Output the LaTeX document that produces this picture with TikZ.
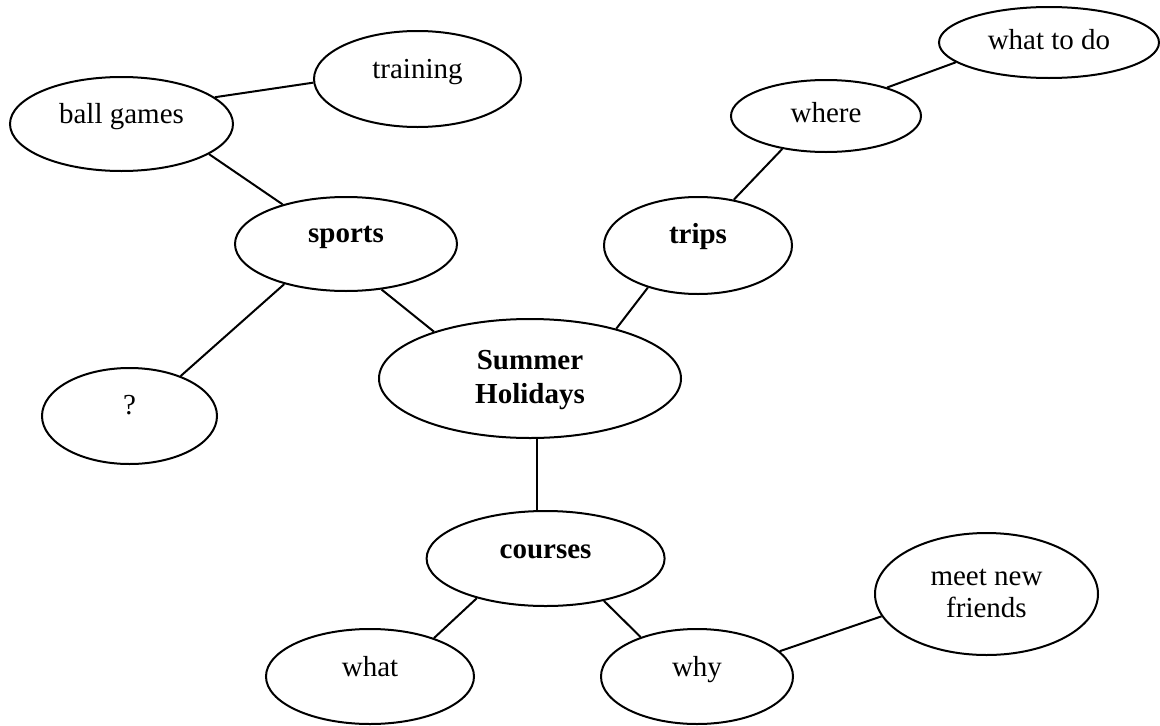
\documentclass[tikz,border=0pt]{standalone}
\usepackage{fontspec}
\setmainfont{Liberation Serif}
\usetikzlibrary{shapes.geometric}
\begin{document}
\begin{tikzpicture}[x=1pt,y=-1pt,
  bub/.style={ellipse, draw, line width=2pt, inner sep=0pt},
  txt/.style={font=\fontsize{29}{33}\selectfont, text height=20pt, text depth=6.5pt, inner sep=0pt},
  btxt/.style={font=\fontsize{29}{33}\selectfont\bfseries, text height=20pt, text depth=6.5pt, inner sep=0pt},
  mtxt/.style={font=\fontsize{29}{32}\selectfont, align=center, inner sep=0pt},
  bmtxt/.style={font=\fontsize{29}{34}\selectfont\bfseries, align=center, inner sep=0pt},
  con/.style={line width=2pt}]
\useasboundingbox (0,0) rectangle (1160,726);
% nodes
\node[bub, minimum width=223pt, minimum height=94pt, label={[txt, yshift=7pt]center:ball games}] (bg) at (121.5,124) {};
\node[bub, minimum width=207pt, minimum height=96pt, label={[txt, yshift=7pt]center:training}] (tr) at (417.5,79) {};
\node[bub, minimum width=222pt, minimum height=94pt, label={[btxt, yshift=8pt]center:sports}] (sp) at (346,244) {};
\node[bub, minimum width=175pt, minimum height=96pt, label={[txt, yshift=8.5pt]center:?}] (q) at (129.5,416) {};
\node[bub, minimum width=188pt, minimum height=97pt, label={[btxt, yshift=9pt]center:trips}] (tp) at (698,245.5) {};
\node[bub, minimum width=190pt, minimum height=72pt, label={[txt, yshift=0pt]center:where}] (wh) at (826,116) {};
\node[bub, minimum width=220pt, minimum height=71pt, label={[txt, yshift=0pt]center:what to do}] (wd) at (1049,42.5) {};
\node[bub, minimum width=302pt, minimum height=119pt, label={[bmtxt, yshift=-2pt]center:{Summer\\Holidays}}] (sh) at (530,378.5) {};
\node[bub, minimum width=238pt, minimum height=95pt, label={[btxt, yshift=7pt]center:courses}] (co) at (545.6,558.5) {};
\node[bub, minimum width=208pt, minimum height=95pt, label={[txt, yshift=7pt]center:what}] (wt) at (370,676.5) {};
\node[bub, minimum width=192pt, minimum height=95pt, label={[txt, yshift=7pt]center:why}] (wy) at (697,676.5) {};
\node[bub, minimum width=223pt, minimum height=122pt, label={[mtxt, yshift=1pt]center:{meet new\\friends}}] (mf) at (986.5,594) {};
% connectors
\draw[con] (bg.16.8) -- (tr.182.2);
\draw[con] (bg.341.7) -- (sp.148.8);
\draw[con] (sp.213) -- (q.38.5);
\draw[con] (sp.308) -- (sh.154.1);
\draw[con] (sh.30.7) -- (tp.220.5);
\draw[con] (tp.52.3) -- (wh.217.9);
\draw[con] (wh.25.4) -- (wd.192.6);
\draw[con] (sh.277.5) -- (sh.277.5 |- co.north);
\draw[con] (co.210.2) -- (wt.31.3);
\draw[con] (co.324.7) -- (wy.145);
\draw[con] (wy.17.2) -- (mf.192.4);
\end{tikzpicture}
\end{document}
